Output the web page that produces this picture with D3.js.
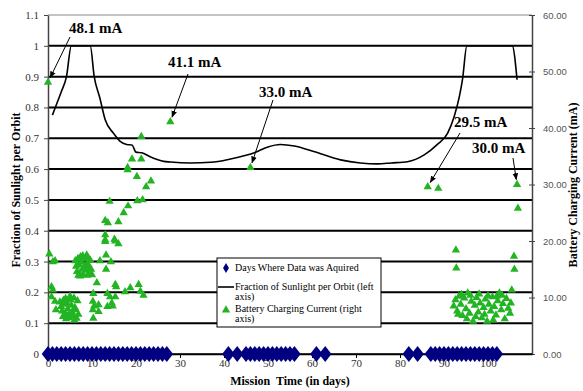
<!DOCTYPE html>
<html><head><meta charset="utf-8">
<script src="https://cdn.jsdelivr.net/npm/d3@7"></script>
<style>body{margin:0;background:#fff}svg{display:block}</style>
</head><body>
<script>
// ---- data ----
const xTicks = [0,10,20,30,40,50,60,70,80,90,100];
const leftTicks = [0,0.1,0.2,0.3,0.4,0.5,0.6,0.7,0.8,0.9,1,1.1];
const rightTicks = [0,10,20,30,40,50,60];

const dataDays = [0,1,2,3,4,5,6,7,8,9,10,11,12,13,14,15,16,17,18,19,20,21,22,23,24,25,26,27,
  41,43,45,46,47,48,49,50,51,52,53,54,55,56, 61,63, 82,84,
  87,88,89,90,91,92,93,94,95,96,97,98,99,100,101,102];

const sunDays = [1.0,2.2,3.0,4.2,5.3,9.6,10.5,11.8,13.0,14.9,16.4,17.9,19.1,20.0,21.3,23.2,26.3,27.8,32.3,37,41.5,47.2,50,52.8,56,60.4,66.5,71,74.9,78,81.7,85.5,88.5,90.8,92.3,93.5,94.2,95.2,105.5,106.6];
const sunFrac = [0.775,0.82,0.85,0.9,1.0,1.0,0.9,0.83,0.76,0.716,0.69,0.68,0.678,0.655,0.653,0.64,0.625,0.623,0.62,0.622,0.633,0.655,0.672,0.68,0.675,0.657,0.63,0.62,0.617,0.62,0.624,0.646,0.68,0.716,0.77,0.836,0.89,1.0,1.0,0.89];

const currDays = [
  0,0.3,1.1,1.6,0.8,1.1,0.8,1.6,1.8,
  2.7,3.0,3.2,3.4,3.6,3.9,4.1,4.3,4.5,4.7,4.9,5.1,5.3,5.5,5.7,5.9,6.1,6.3,6.5,6.7,6.9,5.0,4.0,6.0,3.5,
  6.2,6.4,6.6,6.8,7.0,7.2,7.4,7.6,7.8,8.0,8.2,8.4,8.6,8.8,9.0,9.2,9.4,9.6,9.8,10.0,7.3,8.9,9.1,7.9,6.9,
  10.3,10.2,10.2,10.3,10.5,11.5,11.5,11.1,11.8,13.2,14.3,13.2,13.5,13.5,14.1,14.5,14.7,15.3,15.5,15.3,17.5,18.7,20.6,21.0,21.7,
  13.0,15.3,16.0,15.1,13.0,13.0,13.0,13.6,14.0,16.0,17.2,18.2,20.3,21.5,22.3,23.4,20.2,18.1,18.1,19.1,21.2,21.2,27.8,
  46.0,
  86.3,88.7,92.7,92.8,105.9,106.0,105.4,106.6,106.8,
  92.2,92.6,93.0,93.4,93.8,94.2,94.6,95.0,95.4,95.8,96.2,96.6,97.0,97.4,97.8,98.2,98.6,99.0,99.4,99.8,100.2,100.6,101.0,101.4,101.8,102.2,102.6,103.0,103.4,103.8,104.2,104.6,105.0,105.2,94.0,96.0,98.0,100.0,102.0,97.2,99.2,101.2,95.2,103.2,93.2];
const currMA = [
  48.1,17.7,16.3,16.5,11.9,11.3,10.1,9.3,7.8,
  9.2,8.4,7.6,6.6,8.8,7.2,6.2,9.0,8.0,7.0,6.4,9.6,8.6,7.4,6.8,9.9,8.2,7.8,6.3,9.4,7.0,10.2,9.8,6.0,9.5,
  16.5,15.5,14.6,16.9,15.8,14.2,17.2,16.2,15.0,14.0,16.8,15.6,14.8,17.5,16.0,15.2,14.3,16.6,15.0,14.0,13.8,13.9,17.0,17.4,13.9,
  10.7,9.3,7.8,6.3,8.5,8.7,7.5,12.6,16.5,17.5,16.3,15.0,8.4,10.7,10.1,9.0,8.5,10.1,11.9,12.3,11.0,11.7,12.3,11.1,10.4,
  19.9,20.0,19.5,20.3,20.2,21.1,23.6,23.2,27.0,23.4,25.0,26.2,27.1,27.3,29.6,30.6,31.4,32.6,33.0,34.5,34.5,38.5,41.1,
  33.0,
  29.6,29.3,18.4,15.2,17.3,15.0,11.3,30.0,25.8,
  8.5,9.6,7.6,10.2,8.8,6.8,9.9,8.0,10.8,7.2,9.3,5.8,8.6,10.0,7.4,9.0,6.4,8.2,9.7,5.8,8.8,7.6,10.1,8.4,6.9,9.4,10.8,7.8,8.9,6.2,9.8,8.1,7.2,9.0,10.5,10.4,10.6,10.3,10.2,6.6,7.0,6.0,6.2,10.4,7.0];

const annoText = ["48.1 mA","41.1 mA","33.0 mA","29.5 mA","30.0 mA"];
const annoDay = [0, 27.8, 46.0, 86.3, 106.6];
const annoMA  = [48.1, 41.1, 33.0, 29.6, 30.0];

// ---- layout ----
const W=583,H=391;
const svg=d3.select("body").append("svg").attr("width",W).attr("height",H);
const x=d3.scaleLinear().domain([0,110]).range([48,532]);
const yL=d3.scaleLinear().domain([0,1.1]).range([354,15]);
const yR=d3.scaleLinear().domain([0,60]).range([354,15]);
const serif="'Liberation Serif','Times New Roman',serif";
const sans="'Liberation Sans',Arial,sans-serif";

// top border
svg.append("line").attr("x1",48).attr("x2",532).attr("y1",15).attr("y2",15).attr("stroke","#888").attr("stroke-width",1);

// gridlines
svg.append("g").selectAll("line").data(leftTicks.filter(v=>v>0&&v<1.05)).join("line")
  .attr("x1",48).attr("x2",532).attr("y1",d=>yL(d)).attr("y2",d=>yL(d))
  .attr("stroke","#000").attr("stroke-width",2);

// left axis
const gl=svg.append("g").attr("transform","translate(48,0)")
  .call(d3.axisLeft(yL).tickValues(leftTicks).tickSize(4).tickSizeOuter(0).tickFormat(d3.format("~g")));
gl.select(".domain").attr("stroke","#444").attr("stroke-width",1.5);
gl.selectAll(".tick line").attr("stroke","#444");
gl.selectAll("text").attr("font-family",serif).attr("font-size",11).attr("fill","#333").attr("dx",-2);

// right axis
const gr=svg.append("g").attr("transform","translate(532,0)")
  .call(d3.axisRight(yR).tickValues(rightTicks).tickSize(3).tickSizeOuter(0).tickFormat(d3.format(".2f")));
gr.select(".domain").attr("stroke","#444").attr("stroke-width",1.5);
gr.selectAll(".tick line").attr("stroke","#444").attr("x1",-3);
gr.selectAll("text").attr("font-family",sans).attr("font-size",9.5).attr("fill","#555").attr("dx",5);

// bottom axis
const gb=svg.append("g").attr("transform","translate(0,354)")
  .call(d3.axisBottom(x).tickValues(xTicks).tickSize(4).tickSizeOuter(0));
gb.select(".domain").attr("stroke","#000").attr("stroke-width",1.5);
gb.selectAll(".tick line").attr("stroke","#000");
gb.selectAll("text").attr("font-family",serif).attr("font-size",11).attr("fill","#333").attr("dy","0.55em");
// extend x axis line to full width
svg.append("line").attr("x1",48).attr("x2",532).attr("y1",354).attr("y2",354).attr("stroke","#000").attr("stroke-width",1.5);

// titles
svg.append("text").attr("x",290).attr("y",385).attr("text-anchor","middle")
  .attr("font-family",serif).attr("font-weight","bold").attr("font-size",12).text("Mission  Time (in days)").style("white-space","pre");
svg.append("text").attr("transform","translate(20,190) rotate(-90)").attr("text-anchor","middle")
  .attr("font-family",serif).attr("font-weight","bold").attr("font-size",12).text("Fraction of Sunlight per Orbit");
svg.append("text").attr("transform","translate(577,185) rotate(-90)").attr("text-anchor","middle")
  .attr("font-family",serif).attr("font-weight","bold").attr("font-size",12).text("Battery Charging Current (mA)");

// sunlight curve
svg.append("path").datum(sunDays.map((d,i)=>[d,sunFrac[i]]))
  .attr("d",d3.line().x(d=>x(d[0])).y(d=>yL(d[1])).curve(d3.curveMonotoneX))
  .attr("fill","none").attr("stroke","#000").attr("stroke-width",1.6);

// current triangles
const tri=d3.symbol().type(d3.symbolTriangle).size(30);
svg.append("g").selectAll("path").data(currDays.map((d,i)=>[d,currMA[i]])).join("path")
  .attr("d",tri).attr("transform",d=>`translate(${x(d[0])},${yR(d[1])})`)
  .attr("fill","#22b422");

// diamonds
const dia=d3.symbol().type(d3.symbolDiamond).size(75);
svg.append("g").selectAll("path").data(dataDays).join("path")
  .attr("d",dia).attr("transform",d=>`translate(${x(d)},${yL(0)}) scale(1.35,1)`)
  .attr("fill","#000080");

// annotations
const defs=svg.append("defs");
defs.append("marker").attr("id","ah").attr("viewBox","0 0 10 10").attr("refX",9).attr("refY",5)
  .attr("markerWidth",7).attr("markerHeight",7).attr("orient","auto")
  .append("path").attr("d","M0,1 L10,5 L0,9 Z").attr("fill","#000");
const labX=[69,168,259,454,472], labY=[33,67,97,127,153];
const startX=[70,188,273,460,513], startY=[37,74,100,133,158];
annoText.forEach((t,i)=>{
  svg.append("text").attr("x",labX[i]).attr("y",labY[i]).attr("font-family",serif)
    .attr("font-weight","bold").attr("font-size",15).text(t);
  const ex=x(annoDay[i]), ey=yR(annoMA[i]);
  const dx=ex-startX[i], dy=ey-startY[i], L=Math.hypot(dx,dy);
  svg.append("line").attr("x1",startX[i]).attr("y1",startY[i])
    .attr("x2",ex-dx/L*5).attr("y2",ey-dy/L*5)
    .attr("stroke","#000").attr("stroke-width",1).attr("marker-end","url(#ah)");
});

// legend
const lg=svg.append("g");
lg.append("rect").attr("x",217).attr("y",258).attr("width",164).attr("height",69)
  .attr("fill","#fff").attr("stroke","#000").attr("stroke-width",1);
lg.append("path").attr("d",d3.symbol().type(d3.symbolDiamond).size(30)).attr("transform","translate(226,268)").attr("fill","#000080");
lg.append("line").attr("x1",218).attr("x2",234).attr("y1",287).attr("y2",287).attr("stroke","#000").attr("stroke-width",1.6);
lg.append("path").attr("d",d3.symbol().type(d3.symbolTriangle).size(30)).attr("transform","translate(226,310)").attr("fill","#22b422");
const lt=[["Days Where Data was Aquired",271],["Fraction of Sunlight per Orbit (left",290],["axis)",300],["Battery Charging Current (right",312],["axis)",322]];
lg.selectAll("text").data(lt).join("text").attr("x",235).attr("y",d=>d[1])
  .attr("font-family",serif).attr("font-size",10).attr("fill","#000").text(d=>d[0]);
</script>
</body></html>
